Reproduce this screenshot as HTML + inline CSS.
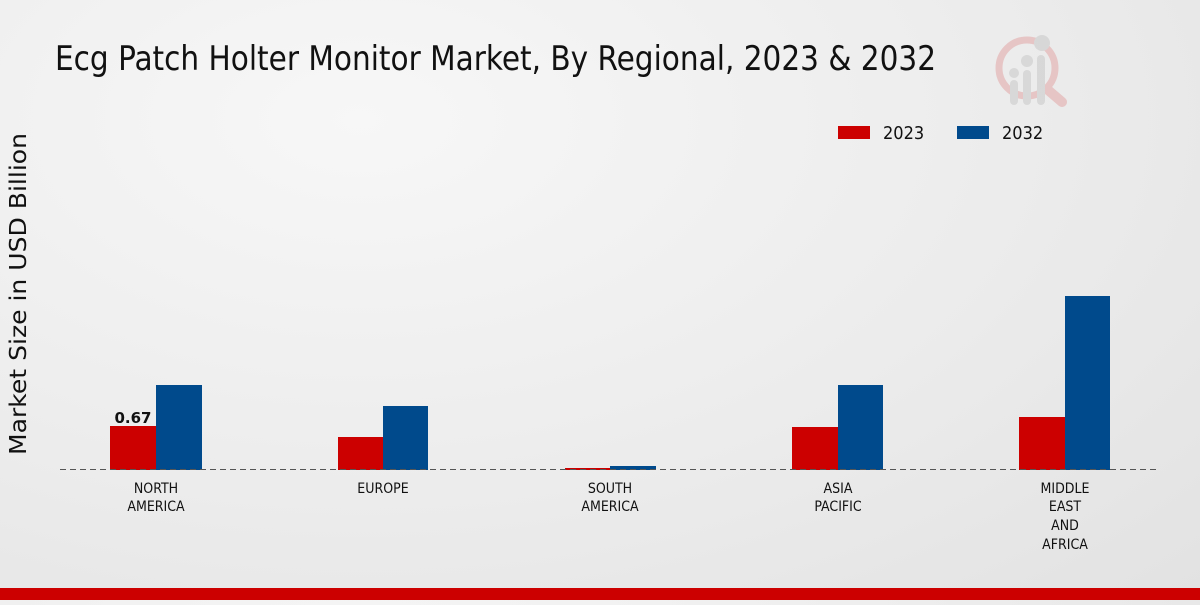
<!DOCTYPE html>
<html><head><meta charset="utf-8"><style>
html,body{margin:0;padding:0}
body{width:1200px;height:600px;overflow:hidden;background:radial-gradient(ellipse at 30% 20%,#f7f7f7 0%,#ececec 55%,#e2e2e2 100%)}
text{font-family:"DejaVu Sans Condensed","DejaVu Sans","Liberation Sans",sans-serif}
</style></head><body>
<svg width="1200" height="600" viewBox="0 0 1200 600" xmlns="http://www.w3.org/2000/svg">
<text x="55" y="70" font-size="34" fill="#111" textLength="881" lengthAdjust="spacingAndGlyphs">Ecg Patch Holter Monitor Market, By Regional, 2023 &amp; 2032</text>
<g opacity="0.55">
<circle cx="1027" cy="68" r="28" fill="none" stroke="#e2a7a7" stroke-width="7"/>
<line x1="1048" y1="90" x2="1062" y2="102" stroke="#e2a7a7" stroke-width="10" stroke-linecap="round"/>
<rect x="1010" y="80" width="8" height="25" rx="4" fill="#c8c8c8"/>
<rect x="1023" y="70" width="8" height="35" rx="4" fill="#c8c8c8"/>
<rect x="1037" y="55" width="8" height="50" rx="4" fill="#c8c8c8"/>
<circle cx="1014" cy="73" r="5" fill="#c8c8c8"/><circle cx="1027" cy="61" r="6" fill="#c8c8c8"/><circle cx="1042" cy="43" r="8" fill="#c8c8c8"/>
</g>
<rect x="838" y="126" width="32" height="13" fill="#cc0000"/>
<text x="883" y="139" font-size="18" fill="#111">2023</text>
<rect x="957" y="126" width="32" height="13" fill="#004a8c"/>
<text x="1002" y="139" font-size="18" fill="#111">2032</text>
<text transform="translate(26,294) rotate(-90)" font-size="23" fill="#111" text-anchor="middle" textLength="322" lengthAdjust="spacingAndGlyphs" style="font-family:'DejaVu Sans',sans-serif">Market Size in USD Billion</text>
<g>
<rect x="110" y="426" width="46" height="44" fill="#cc0000"/><rect x="156" y="385" width="46" height="85" fill="#004a8c"/>
<rect x="338" y="437" width="45" height="33" fill="#cc0000"/><rect x="383" y="406" width="45" height="64" fill="#004a8c"/>
<rect x="565" y="468" width="45" height="2" fill="#cc0000"/><rect x="610" y="466" width="46" height="4" fill="#004a8c"/>
<rect x="792" y="427" width="46" height="43" fill="#cc0000"/><rect x="838" y="385" width="45" height="85" fill="#004a8c"/>
<rect x="1019" y="417" width="46" height="53" fill="#cc0000"/><rect x="1065" y="296" width="45" height="174" fill="#004a8c"/>
</g>
<line x1="60" y1="469.5" x2="1160" y2="469.5" stroke="#555" stroke-width="1" stroke-dasharray="6,4"/>
<text x="133" y="423" font-size="15" font-weight="bold" fill="#111" text-anchor="middle" style="font-family:'DejaVu Sans',sans-serif">0.67</text>
<g font-size="14" fill="#111" text-anchor="middle">
<text x="156" y="493">NORTH</text><text x="156" y="511">AMERICA</text>
<text x="383" y="493">EUROPE</text>
<text x="610" y="493">SOUTH</text><text x="610" y="511">AMERICA</text>
<text x="838" y="493">ASIA</text><text x="838" y="511">PACIFIC</text>
<text x="1065" y="493">MIDDLE</text><text x="1065" y="511">EAST</text><text x="1065" y="530">AND</text><text x="1065" y="549">AFRICA</text>
</g>
<rect x="0" y="588" width="1200" height="12" fill="#cc0000"/>
</svg>
</body></html>
